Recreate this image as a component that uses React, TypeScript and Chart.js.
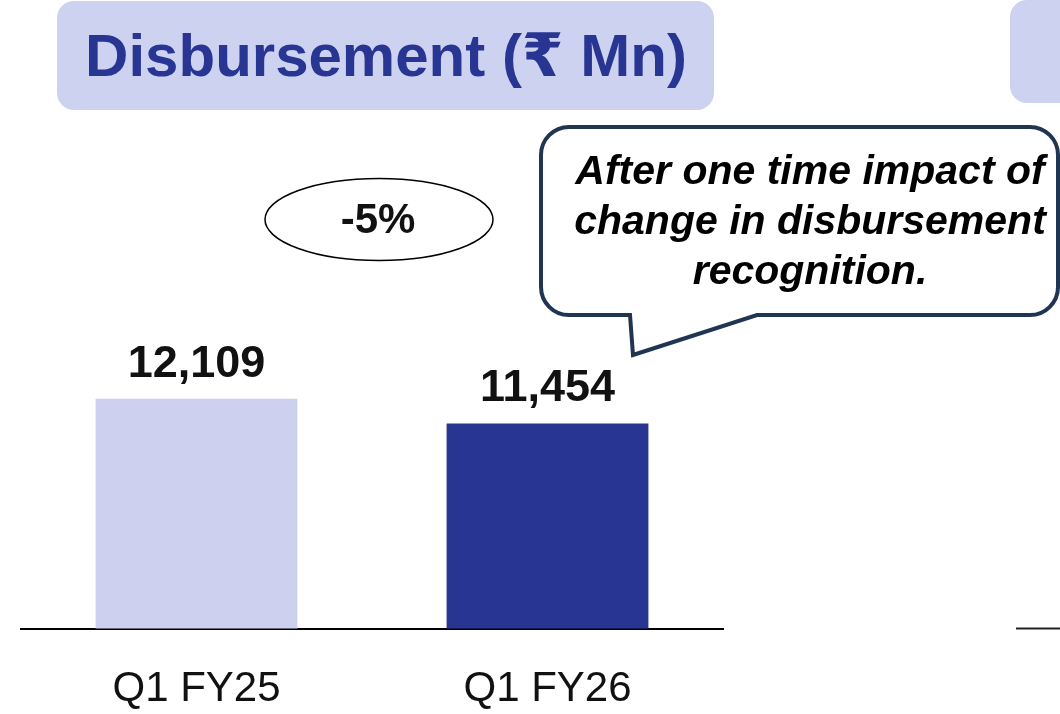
import React, { useEffect, useRef } from "react";
import { Chart, registerables } from "chart.js";

Chart.register(...registerables);

const categories = ["Q1 FY25", "Q1 FY26"];
const disbursement = [12109, 11454];
const barColors = ["#CDD1EF", "#283593"];
const valueLabels = ["12,109", "11,454"];
const titleText = "Disbursement (₹ Mn)";
const growthText = "-5%";
const calloutLines = ["After one time impact of", "change in disbursement", "recognition."];

const FONT = '"Liberation Sans", Arial, "DejaVu Sans", sans-serif';

function roundRectPath(ctx: CanvasRenderingContext2D, x: number, y: number, w: number, h: number, r: number) {
  ctx.beginPath();
  ctx.moveTo(x + r, y);
  ctx.lineTo(x + w - r, y);
  ctx.arcTo(x + w, y, x + w, y + r, r);
  ctx.lineTo(x + w, y + h - r);
  ctx.arcTo(x + w, y + h, x + w - r, y + h, r);
  ctx.lineTo(x + r, y + h);
  ctx.arcTo(x, y + h, x, y + h - r, r);
  ctx.lineTo(x, y + r);
  ctx.arcTo(x, y, x + r, y, r);
  ctx.closePath();
}

const decorPlugin = {
  id: "decor",
  beforeDraw(chart: any) {
    const ctx: CanvasRenderingContext2D = chart.ctx;
    ctx.save();
    ctx.fillStyle = "#fff";
    ctx.fillRect(0, 0, chart.width, chart.height);
    // title box
    ctx.fillStyle = "#CDD2F0";
    roundRectPath(ctx, 57, 1, 657, 109, 17);
    ctx.fill();
    // neighbouring panel title box (cut off)
    roundRectPath(ctx, 1010, 0, 80, 103, 17);
    ctx.fill();
    ctx.fillStyle = "#283593";
    ctx.font = `bold 60px ${FONT}`;
    ctx.textAlign = "center";
    ctx.textBaseline = "alphabetic";
    ctx.fillText(titleText, 386, 76);
    // neighbouring panel baseline
    ctx.strokeStyle = "#222";
    ctx.lineWidth = 2;
    ctx.beginPath();
    ctx.moveTo(1016, 628.5);
    ctx.lineTo(1060, 628.5);
    ctx.stroke();
    ctx.restore();
  },
  afterDraw(chart: any) {
    const ctx: CanvasRenderingContext2D = chart.ctx;
    const meta = chart.getDatasetMeta(0);
    ctx.save();
    // value labels
    ctx.fillStyle = "#111";
    ctx.font = `bold 45px ${FONT}`;
    ctx.textAlign = "center";
    ctx.textBaseline = "alphabetic";
    meta.data.forEach((bar: any, i: number) => {
      ctx.fillText(valueLabels[i], bar.x, bar.y - 22);
    });
    // growth ellipse
    const x0 = meta.data[0].x;
    const x1 = meta.data[1].x;
    const cx = (x0 + x1) / 2 + 7;
    ctx.beginPath();
    ctx.ellipse(cx, 219.5, 114, 41, 0, 0, Math.PI * 2);
    ctx.fillStyle = "#fff";
    ctx.fill();
    ctx.strokeStyle = "#000";
    ctx.lineWidth = 1.5;
    ctx.stroke();
    ctx.fillStyle = "#111";
    ctx.font = `bold 42px ${FONT}`;
    ctx.fillText(growthText, cx - 1, 233);
    // callout
    const L = 541, T = 127, R = 1058, B = 315, r = 28;
    ctx.beginPath();
    ctx.moveTo(L + r, T);
    ctx.lineTo(R - r, T);
    ctx.arcTo(R, T, R, T + r, r);
    ctx.lineTo(R, B - r);
    ctx.arcTo(R, B, R - r, B, r);
    ctx.lineTo(757, B);
    ctx.lineTo(633, 355);
    ctx.lineTo(630, B);
    ctx.lineTo(L + r, B);
    ctx.arcTo(L, B, L, B - r, r);
    ctx.lineTo(L, T + r);
    ctx.arcTo(L, T, L + r, T, r);
    ctx.closePath();
    ctx.fillStyle = "#fff";
    ctx.fill();
    ctx.strokeStyle = "#1F3552";
    ctx.lineWidth = 4;
    ctx.lineJoin = "miter";
    ctx.stroke();
    ctx.fillStyle = "#000";
    ctx.font = `italic bold 41px ${FONT}`;
    calloutLines.forEach((line, i) => {
      ctx.fillText(line, 810, 184 + i * 50);
    });
    ctx.restore();
  },
};

export default function App() {
  const ref = useRef<HTMLCanvasElement | null>(null);
  useEffect(() => {
    if (!ref.current) return;
    const chart = new Chart(ref.current, {
      type: "bar",
      data: {
        labels: categories,
        datasets: [
          {
            data: disbursement,
            backgroundColor: barColors,
            borderWidth: 0,
            barPercentage: 1,
            categoryPercentage: 0.575,
          },
        ],
      },
      options: {
        animation: false,
        responsive: false,
        events: [],
        layout: { padding: { left: 21, right: 337, top: 121, bottom: 0 } },
        plugins: { legend: { display: false }, tooltip: { enabled: false }, title: { display: false } },
        scales: {
          x: {
            z: 1,
            grid: { display: false, drawTicks: false },
            border: { display: true, color: "#000", width: 2 },
            ticks: { color: "#111", font: { family: FONT, size: 42 }, padding: 36, maxRotation: 0, minRotation: 0 },
            afterFit: (scale: any) => {
              scale.height = 85.5;
            },
          },
          y: { display: false, min: 6000, max: 19500 },
        },
      },
      plugins: [decorPlugin],
    });
    return () => chart.destroy();
  }, []);
  return (
    <div style={{ position: "absolute", left: 0, top: 0, width: 1060, height: 714 }}>
      <canvas ref={ref} width={1060} height={714} />
    </div>
  );
}
